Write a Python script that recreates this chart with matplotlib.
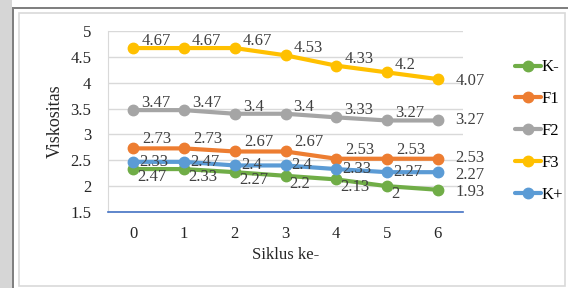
import matplotlib
matplotlib.use("Agg")
import matplotlib.pyplot as plt
from matplotlib.patches import Rectangle

# data
cycles = [0, 1, 2, 3, 4, 5, 6]
series_names = ["K-", "F1", "F2", "F3", "K+"]
k_min = [2.33, 2.33, 2.27, 2.2, 2.13, 2.0, 1.93]
f1 = [2.73, 2.73, 2.67, 2.67, 2.53, 2.53, 2.53]
f2 = [3.47, 3.47, 3.4, 3.4, 3.33, 3.27, 3.27]
f3 = [4.67, 4.67, 4.67, 4.53, 4.33, 4.2, 4.07]
k_plus = [2.47, 2.47, 2.4, 2.4, 2.33, 2.27, 2.27]

# data labels as printed in the original chart
k_min_labels = ["2.47", "2.33", "2.27", "2.2", "2.13", "2", "1.93"]
f1_labels = ["2.73", "2.73", "2.67", "2.67", "2.53", "2.53", "2.53"]
f2_labels = ["3.47", "3.47", "3.4", "3.4", "3.33", "3.27", "3.27"]
f3_labels = ["4.67", "4.67", "4.67", "4.53", "4.33", "4.2", "4.07"]
k_plus_labels = ["2.33", "2.47", "2.4", "2.4", "2.33", "2.27", "2.27"]

colors = ["#70AD47", "#ED7D31", "#A5A5A5", "#FFC000", "#5B9BD5"]
# label offsets in pixels (dx, dy) for inner points and last point
offsets = [((4, -8), (18, -2)),
           ((9, 9), (18, 1)),
           ((8, 7), (18, 0)),
           ((8, 7), (18, -2)),
           ((6, 0), (18, -3))]

plt.rcParams["font.family"] = ["Liberation Serif", "DejaVu Serif"]
FS = 12
TXT = "#404040"

fig = plt.figure(figsize=(5.68, 2.88), dpi=100)
W, H = 568, 288

# outer frame decoration
fig.patches.append(Rectangle((0, 0), 12 / W, 1, transform=fig.transFigure,
                             facecolor="#d6d6d6", edgecolor="none", zorder=0))
fig.patches.append(Rectangle((12 / W, 0), 2 / W, 1 - 7 / H, transform=fig.transFigure,
                             facecolor="#808080", edgecolor="none", zorder=0))
fig.patches.append(Rectangle((12 / W, 1 - 9 / H), 1 - 12 / W, 2 / H, transform=fig.transFigure,
                             facecolor="#808080", edgecolor="none", zorder=0))
fig.patches.append(Rectangle((19 / W, 2 / H), 546 / W, (286 - 13) / H, transform=fig.transFigure,
                             facecolor="none", edgecolor="#d9d9d9", linewidth=1.2, zorder=0))

ax = fig.add_axes([108 / W, 1 - 212 / H, (463 - 108) / W, (212 - 31) / H])

all_series = [k_min, f1, f2, f3, k_plus]
all_labels = [k_min_labels, f1_labels, f2_labels, f3_labels, k_plus_labels]

for i, (name, vals, labs) in enumerate(zip(series_names, all_series, all_labels)):
    ax.plot(cycles, vals, color=colors[i], lw=3, marker="o", ms=7.5,
            label=name, zorder=3 + i, solid_capstyle="round")
    for j, (x, y, t) in enumerate(zip(cycles, vals, labs)):
        dx, dy = offsets[i][1] if j == len(cycles) - 1 else offsets[i][0]
        ax.annotate(t, (x, y), xytext=(dx, dy), textcoords="offset pixels",
                    ha="left", va="center", fontsize=FS, color=TXT, zorder=10)

ax.set_xlim(-0.5, 6.5)
ax.set_ylim(1.5, 5)
ax.set_xticks(cycles)
ax.set_yticks([1.5, 2, 2.5, 3, 3.5, 4, 4.5, 5])
ax.set_yticklabels(["1.5", "2", "2.5", "3", "3.5", "4", "4.5", "5"])
ax.tick_params(axis="both", length=0, labelsize=FS, labelcolor="#262626")
ax.tick_params(axis="y", pad=12)
ax.tick_params(axis="x", pad=10)
ax.grid(axis="y", color="#d9d9d9", lw=1)
ax.set_axisbelow(True)
for s in ["top", "right"]:
    ax.spines[s].set_visible(False)
ax.spines["left"].set_color("#d9d9d9")
ax.spines["bottom"].set_color("#4472C4")
ax.spines["bottom"].set_linewidth(1.2)

ax.set_xlabel("Siklus ke-", fontsize=FS, color="#262626", labelpad=4)
ax.set_ylabel("Viskositas", fontsize=FS + 1, color="#262626", labelpad=5)

ax.legend(loc="center left", bbox_to_anchor=(515 / W, 1 - 131 / H),
          bbox_transform=fig.transFigure, frameon=False, fontsize=FS,
          handlelength=1.55, handletextpad=0.05, labelspacing=0.95,
          borderaxespad=0, borderpad=0)

fig.savefig("out.png", dpi=100)
